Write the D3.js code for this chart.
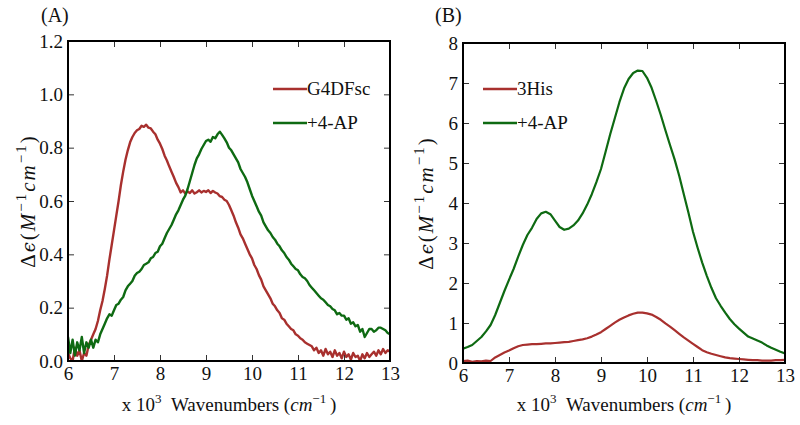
<!DOCTYPE html>
<html>
<head>
<meta charset="utf-8">
<script src="https://cdnjs.cloudflare.com/ajax/libs/d3/7.8.5/d3.min.js"></script>
<style>
  html, body { margin: 0; padding: 0; background: #fff; }
  svg { display: block; }
  text { font-family: "Liberation Serif", "Times New Roman", serif; fill: #111; }
</style>
</head>
<body>
<svg id="chart" width="800" height="425"></svg>
<script>
// Wavenumber grids (x 10^3 cm^-1)
const wavenumbersA = d3.range(0, 141).map(i => +(6 + i * 0.05).toFixed(2)); // 6.00 .. 13.00
const wavenumbersB = d3.range(0, 71).map(i => +(6 + i * 0.1).toFixed(1));   // 6.0 .. 13.0

// Panel A series (step 0.05)
const g4dfsc = [
  0.03,0.01,0.00,0.05,0.02,0.04,0.00,0.03,0.02,0.06,
  0.08,0.10,0.12,0.15,0.19,0.225,0.27,0.32,0.38,0.435,
  0.49,0.545,0.60,0.66,0.71,0.755,0.79,0.82,0.84,0.855,
  0.865,0.87,0.882,0.878,0.886,0.875,0.872,0.86,0.85,0.83,
  0.815,0.795,0.77,0.752,0.73,0.71,0.69,0.668,0.652,0.632,
  0.64,0.628,0.636,0.63,0.64,0.628,0.633,0.64,0.632,0.638,
  0.634,0.64,0.63,0.638,0.632,0.628,0.618,0.615,0.605,0.60,
  0.585,0.565,0.545,0.52,0.50,0.475,0.46,0.44,0.42,0.40,
  0.385,0.36,0.345,0.322,0.305,0.28,0.265,0.25,0.235,0.215,
  0.205,0.19,0.18,0.16,0.155,0.14,0.13,0.12,0.115,0.10,
  0.095,0.085,0.08,0.07,0.065,0.06,0.055,0.04,0.05,0.03,
  0.04,0.02,0.045,0.025,0.035,0.015,0.04,0.02,0.03,0.01,
  0.035,0.015,0.025,0.005,0.03,0.015,0.02,0.00,0.025,0.01,
  0.03,0.015,0.025,0.035,0.02,0.04,0.025,0.045,0.03,0.04,
  0.035];
const apA = [
  0.09,0.03,0.08,0.02,0.07,0.04,0.09,0.03,0.07,0.05,
  0.08,0.05,0.08,0.07,0.10,0.12,0.14,0.16,0.175,0.17,
  0.19,0.21,0.215,0.23,0.24,0.265,0.28,0.29,0.30,0.32,
  0.33,0.335,0.345,0.36,0.365,0.37,0.385,0.39,0.405,0.41,
  0.43,0.44,0.46,0.48,0.495,0.51,0.53,0.55,0.565,0.585,
  0.605,0.62,0.645,0.675,0.705,0.735,0.76,0.775,0.795,0.81,
  0.825,0.83,0.822,0.84,0.835,0.85,0.86,0.848,0.835,0.82,
  0.80,0.79,0.775,0.76,0.745,0.72,0.705,0.69,0.67,0.645,
  0.62,0.60,0.58,0.56,0.545,0.52,0.505,0.49,0.48,0.465,
  0.455,0.44,0.43,0.415,0.405,0.39,0.38,0.365,0.355,0.345,
  0.34,0.325,0.315,0.31,0.30,0.285,0.275,0.265,0.255,0.245,
  0.235,0.23,0.22,0.21,0.205,0.195,0.19,0.175,0.18,0.17,
  0.17,0.155,0.16,0.14,0.145,0.13,0.135,0.11,0.12,0.09,
  0.105,0.12,0.12,0.11,0.115,0.125,0.125,0.12,0.115,0.105,
  0.10];

// Panel B series (step 0.1)
const his3 = [0.05,0.06,0.03,0.05,0.04,0.06,0.05,0.14,0.20,0.26,
  0.31,0.37,0.42,0.45,0.46,0.47,0.47,0.48,0.49,0.49,
  0.50,0.51,0.52,0.53,0.55,0.57,0.59,0.62,0.66,0.71,
  0.77,0.85,0.93,1.01,1.08,1.14,1.19,1.23,1.26,1.26,
  1.24,1.21,1.15,1.08,0.99,0.91,0.82,0.73,0.64,0.56,
  0.48,0.40,0.32,0.27,0.23,0.20,0.17,0.14,0.12,0.11,
  0.10,0.09,0.08,0.07,0.07,0.06,0.06,0.06,0.07,0.07,0.08];
const apB = [0.36,0.40,0.45,0.55,0.65,0.79,0.95,1.20,1.50,1.80,
  2.08,2.35,2.66,2.95,3.20,3.38,3.60,3.74,3.78,3.72,
  3.56,3.40,3.33,3.36,3.44,3.56,3.74,3.96,4.22,4.52,
  4.85,5.28,5.72,6.12,6.52,6.86,7.10,7.25,7.31,7.30,
  7.13,6.88,6.55,6.20,5.82,5.45,5.09,4.68,4.22,3.76,
  3.28,2.88,2.51,2.18,1.88,1.62,1.43,1.26,1.10,0.97,
  0.86,0.76,0.66,0.61,0.56,0.51,0.44,0.38,0.33,0.28,0.24];

const xTicks = [6,7,8,9,10,11,12,13];
const yTicksA = [0,0.2,0.4,0.6,0.8,1.0,1.2];
const yTicksB = [0,1,2,3,4,5,6,7,8];

const RED = "#a8302e";
const GREEN = "#0e6a12";
const SERIF = "'Liberation Serif', 'Times New Roman', serif";

const svg = d3.select("#chart");

function panel(opts) {
  const {left, right, top, bottom, yMax, yTicks, yFmt, grid, series, legend, label, labelX, ylabX, lw} = opts;
  const x = d3.scaleLinear().domain([6, 13]).range([left, right]);
  const y = d3.scaleLinear().domain([0, yMax]).range([bottom, top]);
  const g = svg.append("g");

  const cid = "clip" + label.replace(/\W/g, "");
  svg.append("clipPath").attr("id", cid).append("rect")
    .attr("x", left).attr("y", top).attr("width", right - left).attr("height", bottom - top);

  const line = d3.line().x((d, i) => x(grid[i])).y(d => y(d));
  series.forEach(s => {
    g.append("path").datum(s.values)
      .attr("clip-path", `url(#${cid})`)
      .attr("d", line)
      .attr("fill", "none")
      .attr("stroke", s.color)
      .attr("stroke-width", lw)
      .attr("stroke-linejoin", "round");
  });

  const bottomAx = g.append("g").attr("transform", `translate(0,${bottom})`)
    .call(d3.axisBottom(x).tickValues(xTicks).tickFormat(d3.format("d")).tickSizeInner(-6).tickSizeOuter(0).tickPadding(6));
  const topAx = g.append("g").attr("transform", `translate(0,${top})`)
    .call(d3.axisTop(x).tickValues(xTicks).tickFormat("").tickSizeInner(-6).tickSizeOuter(0));
  const leftAx = g.append("g").attr("transform", `translate(${left},0)`)
    .call(d3.axisLeft(y).tickValues(yTicks).tickFormat(yFmt).tickSizeInner(-6).tickSizeOuter(0).tickPadding(5));
  const rightAx = g.append("g").attr("transform", `translate(${right},0)`)
    .call(d3.axisRight(y).tickValues(yTicks).tickFormat("").tickSizeInner(-6).tickSizeOuter(0));
  [bottomAx, topAx, leftAx, rightAx].forEach(a => {
    a.attr("font-family", null);
    a.select(".domain").remove();
    a.selectAll(".tick line").attr("stroke", "#333").attr("stroke-width", 1);
    a.selectAll("text").style("font-family", SERIF).style("font-size", "19px").attr("fill", "#111");
  });

  g.append("rect").attr("x", left).attr("y", top)
    .attr("width", right - left).attr("height", bottom - top)
    .attr("fill", "none").attr("stroke", "#000").attr("stroke-width", 2);

  legend.items.forEach((it, i) => {
    const ly = legend.y + i * 34;
    g.append("line").attr("x1", legend.x).attr("x2", legend.x + 34)
      .attr("y1", ly).attr("y2", ly)
      .attr("stroke", it.color).attr("stroke-width", 2.6);
    g.append("text").attr("x", legend.x + 34).attr("y", ly + 6)
      .style("font-family", SERIF).style("font-size", "19px").text(it.name);
  });

  g.append("text").attr("x", labelX).attr("y", 22)
    .style("font-family", SERIF).style("font-size", "20px").text(label);

  const xl = g.append("text").attr("x", (left + right) / 2).attr("y", 411)
    .attr("text-anchor", "middle").style("font-family", SERIF).style("font-size", "19px");
  xl.append("tspan").text("x 10");
  xl.append("tspan").attr("dy", -8).style("font-size", "13px").text("3");
  xl.append("tspan").attr("dy", 8).text("\u00a0\u00a0Wavenumbers (");
  xl.append("tspan").style("font-style", "italic").text("cm");
  xl.append("tspan").attr("dy", -8).style("font-size", "13px").text("\u22121");
  xl.append("tspan").attr("dy", 8).text("\u2009)");

  const yl = g.append("text")
    .attr("transform", `translate(${ylabX},${(top + bottom) / 2}) rotate(-90)`)
    .attr("text-anchor", "middle").style("font-family", SERIF).style("font-size", "21px")
    .style("letter-spacing", "2px");
  yl.append("tspan").text("\u0394");
  yl.append("tspan").style("font-style", "italic").style("font-family", "'DejaVu Serif', serif").style("font-size", "18px").text("\u03f5");
  yl.append("tspan").text("(");
  yl.append("tspan").style("font-style", "italic").text("M");
  yl.append("tspan").attr("dy", -9).style("font-size", "15px").text("\u22121");
  yl.append("tspan").attr("dy", 9).style("font-style", "italic").text("cm");
  yl.append("tspan").attr("dy", -9).style("font-size", "15px").text("\u22121");
  yl.append("tspan").attr("dy", 9).text(")");
}

panel({
  left: 68, right: 390, top: 41, bottom: 361, yMax: 1.2, yTicks: yTicksA,
  yFmt: d3.format(".1f"), grid: wavenumbersA, lw: 2.4,
  series: [{values: g4dfsc, color: RED}, {values: apA, color: GREEN}],
  legend: {x: 273, y: 89, items: [{name: "G4DFsc", color: RED}, {name: "+4-AP", color: GREEN}]},
  label: "(A)", labelX: 41, ylabX: 35
});

panel({
  left: 463, right: 785, top: 43, bottom: 363, yMax: 8, yTicks: yTicksB,
  yFmt: d3.format("d"), grid: wavenumbersB, lw: 2.2,
  series: [{values: his3, color: RED}, {values: apB, color: GREEN}],
  legend: {x: 483, y: 89, items: [{name: "3His", color: RED}, {name: "+4-AP", color: GREEN}]},
  label: "(B)", labelX: 435, ylabX: 433
});
</script>
</body>
</html>
